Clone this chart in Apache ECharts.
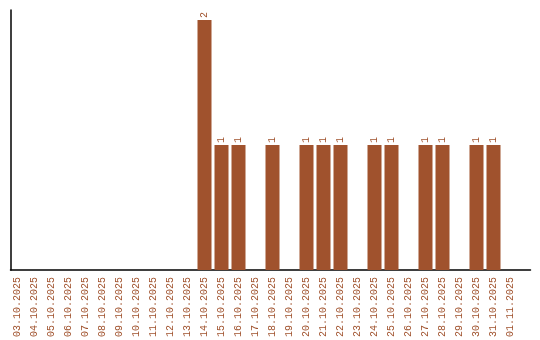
<!DOCTYPE html>
<html><head><meta charset="utf-8">
<script src="https://cdn.jsdelivr.net/npm/echarts@6/dist/echarts.min.js"></script>
<style>html,body{margin:0;padding:0;background:#fff}#c{width:540px;height:340px}</style>
</head><body><div id="c"></div>
<script>
var categories = ["03.10.2025","04.10.2025","05.10.2025","06.10.2025","07.10.2025","08.10.2025","09.10.2025","10.10.2025","11.10.2025","12.10.2025","13.10.2025","14.10.2025","15.10.2025","16.10.2025","17.10.2025","18.10.2025","19.10.2025","20.10.2025","21.10.2025","22.10.2025","23.10.2025","24.10.2025","25.10.2025","26.10.2025","27.10.2025","28.10.2025","29.10.2025","30.10.2025","31.10.2025","01.11.2025"];
var values = [null,null,null,null,null,null,null,null,null,null,null,2,1,1,null,1,null,1,1,1,null,1,1,null,1,1,null,1,1,null];
var color = '#A0522D';
var font = 'Liberation Mono';
var chart = echarts.init(document.getElementById('c'), null, {renderer:'canvas'});
chart.setOption({
  animation:false,
  grid:[
    {left:9, width:510, top:10, bottom:70},
    {left:10.5, right:9.5, top:10, bottom:70}
  ],
  xAxis:[
    {type:'category', gridIndex:0, data:categories,
     axisLine:{show:false}, axisTick:{show:false},
     axisLabel:{rotate:90, interval:0, margin:7, color:color, fontFamily:font, fontSize:10}},
    {type:'value', gridIndex:1, min:0, max:1, axisLine:{show:true, onZero:false, lineStyle:{color:'#000', width:1.5}},
     axisTick:{show:false}, axisLabel:{show:false}, splitLine:{show:false}}
  ],
  yAxis:[
    {type:'value', gridIndex:0, min:0, max:2.08, axisLine:{show:false}, axisTick:{show:false}, axisLabel:{show:false}, splitLine:{show:false}},
    {type:'value', gridIndex:1, min:0, max:1, axisLine:{show:true, lineStyle:{color:'#000', width:1.5}}, axisTick:{show:false}, axisLabel:{show:false}, splitLine:{show:false}}
  ],
  series:[{
    type:'bar', xAxisIndex:0, yAxisIndex:0, data:values, barWidth:14,
    itemStyle:{color:color},
    label:{show:true, position:'top', rotate:90, align:'left', verticalAlign:'middle', distance:2, color:color, fontFamily:font, fontSize:10}
  }]
});
</script></body></html>
